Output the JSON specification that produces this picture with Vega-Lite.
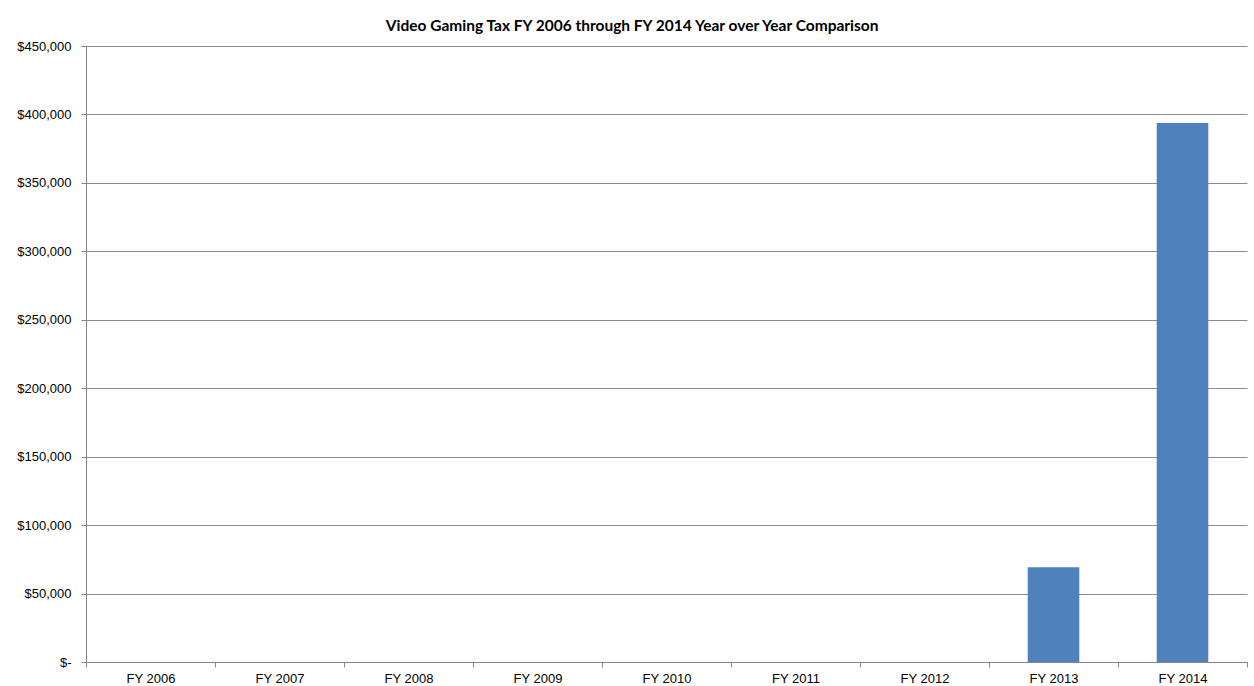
{
  "$schema": "https://vega.github.io/schema/vega-lite/v6.json",
  "autosize": "none",
  "width": 1161,
  "height": 616,
  "padding": {"left": 86, "top": 46, "right": 7, "bottom": 24},
  "background": "white",
  "title": {
    "text": "Video Gaming Tax FY 2006 through FY 2014 Year over Year Comparison",
    "font": "Lato",
    "fontSize": 15.5,
    "fontWeight": "bold",
    "color": "#000000",
    "anchor": "middle",
    "frame": "bounds",
    "offset": 6
  },
  "config": {
    "view": {"stroke": null},
    "axis": {
      "labelFont": "Liberation Sans",
      "labelFontSize": 13,
      "labelColor": "#000000",
      "domainColor": "#868686",
      "tickColor": "#868686",
      "gridColor": "#8c8c8c",
      "tickSize": 5
    }
  },
  "data": {
    "values": [
      {"year": "FY 2006", "tax": 0},
      {"year": "FY 2007", "tax": 0},
      {"year": "FY 2008", "tax": 0},
      {"year": "FY 2009", "tax": 0},
      {"year": "FY 2010", "tax": 0},
      {"year": "FY 2011", "tax": 0},
      {"year": "FY 2012", "tax": 0},
      {"year": "FY 2013", "tax": 69200},
      {"year": "FY 2014", "tax": 393800}
    ]
  },
  "mark": {"type": "bar", "color": "#4F81BD", "width": {"band": 0.4}},
  "encoding": {
    "x": {
      "field": "year",
      "type": "nominal",
      "sort": null,
      "scale": {"paddingInner": 0, "paddingOuter": 0},
      "axis": {
        "title": null,
        "labelAngle": 0,
        "tickBand": "extent",
        "labelPadding": 5,
        "grid": false
      }
    },
    "y": {
      "field": "tax",
      "type": "quantitative",
      "scale": {"domain": [0, 450000], "nice": false},
      "axis": {
        "title": null,
        "values": [0, 50000, 100000, 150000, 200000, 250000, 300000, 350000, 400000, 450000],
        "labelExpr": "datum.value == 0 ? '$-' : '$' + format(datum.value, ',')",
        "labelPadding": 10,
        "grid": true
      }
    }
  }
}
